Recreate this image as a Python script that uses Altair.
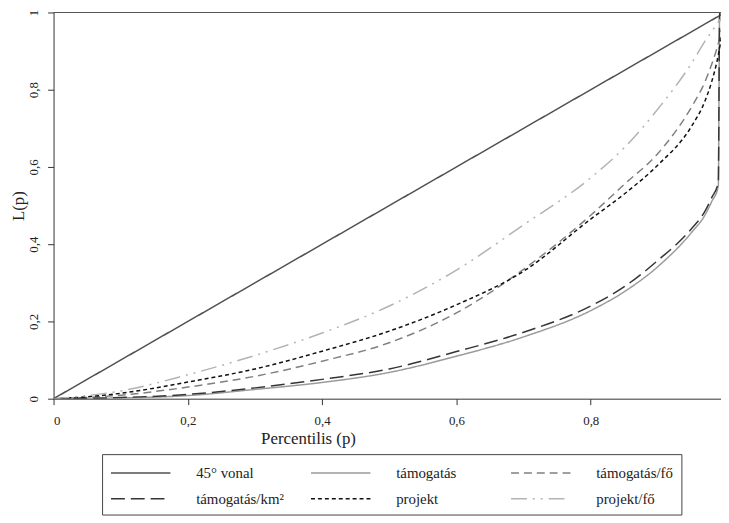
import altair as alt
import pandas as pd

series_names = ["45° vonal", "támogatás", "támogatás/fő", "támogatás/km²", "projekt", "projekt/fő"]

p_45 = [0, 1.0]
L_45 = [0, 1.0]

p_tam = [0, 0.1, 0.2, 0.3, 0.4, 0.5, 0.6, 0.7, 0.8, 0.85, 0.9, 0.95, 0.97, 0.98, 0.99, 0.992, 1.0]
L_tam = [0, 0.002, 0.008, 0.024, 0.042, 0.068, 0.11, 0.16, 0.228, 0.277, 0.342, 0.43, 0.475, 0.51, 0.55, 1.0, 1.0]

p_tam_fo = [0, 0.1, 0.2, 0.3, 0.4, 0.5, 0.6, 0.7, 0.8, 0.85, 0.9, 0.95, 0.97, 0.98, 0.99, 1.0]
L_tam_fo = [0, 0.009, 0.03, 0.058, 0.097, 0.145, 0.222, 0.335, 0.475, 0.555, 0.635, 0.755, 0.82, 0.865, 0.92, 1.0]

p_tam_km = [0, 0.1, 0.2, 0.3, 0.4, 0.5, 0.6, 0.7, 0.8, 0.85, 0.9, 0.95, 0.97, 0.98, 0.99, 0.992, 1.0]
L_tam_km = [0, 0.003, 0.011, 0.028, 0.05, 0.077, 0.122, 0.172, 0.24, 0.29, 0.358, 0.44, 0.485, 0.52, 0.56, 1.0, 1.0]

p_proj = [0, 0.05, 0.1, 0.2, 0.3, 0.4, 0.5, 0.6, 0.7, 0.8, 0.85, 0.9, 0.95, 0.97, 0.98, 0.99, 1.0]
L_proj = [0, 0.005, 0.014, 0.043, 0.077, 0.123, 0.175, 0.243, 0.33, 0.465, 0.53, 0.605, 0.705, 0.77, 0.82, 0.89, 1.0]

p_proj_fo = [0, 0.05, 0.1, 0.2, 0.3, 0.4, 0.5, 0.6, 0.7, 0.8, 0.85, 0.9, 0.95, 0.97, 0.99, 1.0]
L_proj_fo = [0, 0.008, 0.02, 0.062, 0.112, 0.17, 0.24, 0.333, 0.45, 0.572, 0.65, 0.75, 0.868, 0.925, 0.975, 1.0]

series_data = [
    (series_names[0], p_45, L_45),
    (series_names[1], p_tam, L_tam),
    (series_names[2], p_tam_fo, L_tam_fo),
    (series_names[3], p_tam_km, L_tam_km),
    (series_names[4], p_proj, L_proj),
    (series_names[5], p_proj_fo, L_proj_fo),
]

rows = []
for name, ps, ls in series_data:
    for i, (p, l) in enumerate(zip(ps, ls)):
        rows.append({"series": name, "p": p, "L": l, "order": i})
df = pd.DataFrame(rows)

colors = ["#505050", "#9a9a9a", "#808080", "#353535", "#111111", "#b3b3b3"]
dashes = [[1, 0], [1, 0], [8, 5], [14, 6], [4, 3], [16, 6, 2, 6, 2, 6]]

comma_fmt = "replace(format(datum.value, '.1~f'), '.', ',')"
FONT = "Liberation Serif"

legend = alt.Legend(
    title=None,
    orient="none",
    direction="horizontal",
    legendX=49,
    legendY=446,
    columns=3,
    gridAlign="all",
    symbolType="M-1,0L5,0",
    symbolSize=400,
    symbolStrokeWidth=1.5,
    symbolFillColor="transparent",
    labelFont=FONT,
    labelFontSize=15,
    labelColor="#222222",
    labelOffset=65,
    columnPadding=24,
    rowPadding=7,
    padding=8,
    strokeColor="#444444",
)

lines = alt.Chart(df).mark_line(strokeWidth=1.5, clip=True, interpolate="monotone").encode(
    x=alt.X(
        "p:Q",
        scale=alt.Scale(domain=[0, 0.994], nice=False, zero=False),
        axis=alt.Axis(
            values=[0, 0.2, 0.4, 0.6, 0.8],
            labelExpr=comma_fmt,
            title="Percentilis (p)",
            grid=False,
            domainColor="#333333",
            tickColor="#333333",
            tickSize=6,
            labelFont=FONT,
            labelFontSize=13,
            labelColor="#222222",
            labelPadding=10,
            titleFont=FONT,
            titleFontSize=17,
            titleFontWeight="normal",
            titleColor="#222222",
            titleX=257,
            titleY=40,
            titleBaseline="middle",
        ),
    ),
    y=alt.Y(
        "L:Q",
        scale=alt.Scale(domain=[0, 1], nice=False),
        axis=alt.Axis(
            values=[0, 0.2, 0.4, 0.6, 0.8, 1.0],
            labelExpr=comma_fmt,
            title="L(p)",
            grid=False,
            domainColor="#333333",
            tickColor="#333333",
            tickSize=6,
            labelFont=FONT,
            labelFontSize=13,
            labelColor="#222222",
            labelAngle=-90,
            labelAlign="center",
            labelBaseline="bottom",
            labelPadding=7,
            titleFont=FONT,
            titleFontSize=17,
            titleFontWeight="normal",
            titleColor="#222222",
            titleX=-35,
            titleY=195,
            titleAlign="center",
            titleBaseline="middle",
        ),
    ),
    color=alt.Color(
        "series:N",
        scale=alt.Scale(domain=series_names, range=colors),
        legend=legend,
    ),
    strokeDash=alt.StrokeDash(
        "series:N",
        scale=alt.Scale(domain=series_names, range=dashes),
        legend=legend,
    ),
    order="order:Q",
    detail="series:N",
)

top_border = alt.Chart(pd.DataFrame({"v": [1]})).mark_rule(color="#555555", strokeWidth=1.2).encode(
    y=alt.datum(1)
)

chart = alt.layer(lines, top_border).properties(
    width=674,
    height=390,
    autosize=alt.AutoSizeParams(type="none"),
    padding={"left": 46, "top": 2, "right": 0, "bottom": 120},
).configure(font=FONT).configure_view(stroke=None)

chart.save("out.html", embed_options={"renderer": "svg", "actions": False})
